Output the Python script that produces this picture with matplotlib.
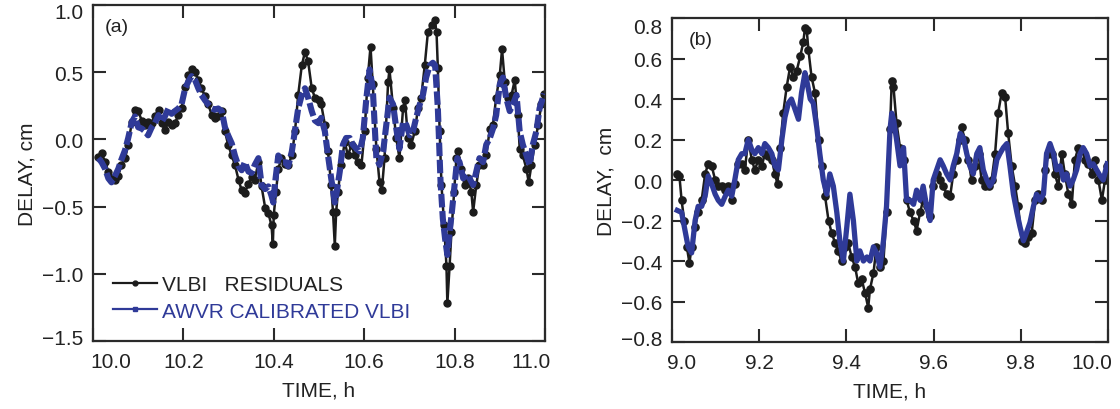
import matplotlib
matplotlib.use("Agg")
import matplotlib.pyplot as plt
from matplotlib.lines import Line2D
from matplotlib.transforms import ScaledTranslation

plt.style.use("default")
plt.rcParams["font.family"] = ["Liberation Sans", "DejaVu Sans"]

# ---- panel (a): VLBI residuals (black) ----
time_a_vlbi = [
    10.012, 10.019, 10.027, 10.034, 10.041, 10.049, 10.056, 10.063, 10.071, 10.078,
    10.086, 10.093, 10.100, 10.108, 10.115, 10.122, 10.130, 10.137, 10.145, 10.152,
    10.159, 10.167, 10.174, 10.181, 10.189, 10.196, 10.204, 10.211, 10.218, 10.226,
    10.233, 10.240, 10.248, 10.255, 10.263, 10.270, 10.277, 10.285, 10.292, 10.299,
    10.307, 10.314, 10.322, 10.329, 10.336, 10.344, 10.351, 10.358, 10.366, 10.373,
    10.381, 10.388, 10.395, 10.398, 10.400, 10.405, 10.410, 10.417, 10.425, 10.432,
    10.440, 10.447, 10.454, 10.462, 10.469, 10.476, 10.484, 10.491, 10.499, 10.505,
    10.513, 10.520, 10.527, 10.531, 10.535, 10.538, 10.542, 10.549, 10.557, 10.564,
    10.572, 10.579, 10.586, 10.594, 10.601, 10.608, 10.614, 10.619, 10.627, 10.634,
    10.639, 10.645, 10.653, 10.656, 10.664, 10.671, 10.678, 10.686, 10.690, 10.697,
    10.704, 10.712, 10.719, 10.726, 10.734, 10.741, 10.749, 10.756, 10.760, 10.763,
    10.767, 10.771, 10.777, 10.782, 10.784, 10.789, 10.793, 10.799, 10.804, 10.808,
    10.815, 10.822, 10.830, 10.837, 10.841, 10.848, 10.855, 10.863, 10.870, 10.878,
    10.885, 10.892, 10.900, 10.905, 10.911, 10.918, 10.926, 10.933, 10.940, 10.944,
    10.951, 10.959, 10.964, 10.970, 10.977, 10.985, 10.992, 10.998,
]
delay_a_vlbi = [
    -0.13, -0.10, -0.17, -0.24, -0.29, -0.30, -0.27, -0.19, -0.14, -0.04,
    0.13, 0.22, 0.21, 0.14, 0.11, 0.13, 0.12, 0.17, 0.22, 0.12,
    0.07, 0.13, 0.11, 0.12, 0.18, 0.23, 0.39, 0.48, 0.52, 0.50,
    0.44, 0.38, 0.32, 0.26, 0.18, 0.16, 0.17, 0.21, 0.06, -0.04,
    -0.12, -0.19, -0.30, -0.38, -0.40, -0.33, -0.28, -0.30, -0.17, -0.35,
    -0.51, -0.55, -0.64, -0.78, -0.56, -0.39, -0.22, -0.14, -0.18, -0.19,
    -0.12, 0.06, 0.33, 0.55, 0.65, 0.58, 0.38, 0.31, 0.29, 0.26,
    0.11, -0.09, -0.34, -0.54, -0.79, -0.54, -0.39, -0.19, -0.02, -0.12,
    -0.04, -0.12, -0.17, -0.19, 0.06, 0.46, 0.69, 0.41, -0.07, -0.32,
    -0.38, -0.14, 0.43, 0.52, 0.23, 0.01, -0.14, 0.23, 0.29, 0.01,
    -0.04, 0.06, 0.23, 0.31, 0.55, 0.80, 0.85, 0.89, 0.80, 0.53,
    0.06, -0.34, -0.64, -0.94, -1.22, -0.94, -0.69, -0.39, -0.14, -0.09,
    -0.22, -0.34, -0.29, -0.39, -0.54, -0.34, -0.19, -0.19, -0.12, 0.08,
    0.11, 0.31, 0.48, 0.67, 0.43, 0.31, 0.33, 0.44, 0.18, -0.07,
    -0.12, -0.22, -0.32, -0.19, -0.04, 0.11, 0.26, 0.34,
]

# ---- panel (a): AWVR calibrated VLBI (blue) ----
time_a_awvr = [
    10.012, 10.019, 10.027, 10.034, 10.041, 10.049, 10.056, 10.063, 10.071, 10.078,
    10.086, 10.093, 10.100, 10.108, 10.115, 10.122, 10.130, 10.137, 10.145, 10.152,
    10.159, 10.167, 10.174, 10.181, 10.189, 10.196, 10.204, 10.211, 10.218, 10.226,
    10.233, 10.240, 10.248, 10.255, 10.263, 10.270, 10.277, 10.285, 10.292, 10.299,
    10.307, 10.314, 10.322, 10.329, 10.336, 10.344, 10.351, 10.358, 10.366, 10.373,
    10.381, 10.388, 10.395, 10.399, 10.403, 10.410, 10.417, 10.425, 10.432, 10.440,
    10.447, 10.454, 10.462, 10.469, 10.476, 10.484, 10.491, 10.499, 10.505, 10.513,
    10.520, 10.527, 10.535, 10.538, 10.546, 10.553, 10.560, 10.568, 10.575, 10.583,
    10.590, 10.597, 10.605, 10.612, 10.619, 10.627, 10.634, 10.642, 10.649, 10.656,
    10.664, 10.671, 10.678, 10.686, 10.693, 10.701, 10.708, 10.715, 10.723, 10.730,
    10.737, 10.745, 10.752, 10.757, 10.763, 10.769, 10.774, 10.779, 10.784, 10.789,
    10.794, 10.800, 10.806, 10.811, 10.819, 10.826, 10.833, 10.841, 10.848, 10.855,
    10.863, 10.870, 10.878, 10.885, 10.892, 10.900, 10.907, 10.914, 10.922, 10.929,
    10.937, 10.944, 10.951, 10.959, 10.966, 10.973, 10.981, 10.988, 10.998,
]
delay_a_awvr = [
    -0.14, -0.17, -0.22, -0.29, -0.32, -0.27, -0.22, -0.15, -0.08, 0.01,
    0.13, 0.17, 0.09, 0.08, 0.06, 0.03, 0.09, 0.12, 0.18, 0.13,
    0.17, 0.23, 0.19, 0.21, 0.23, 0.26, 0.38, 0.43, 0.47, 0.44,
    0.38, 0.33, 0.29, 0.26, 0.23, 0.22, 0.23, 0.21, 0.09, 0.03,
    -0.03, -0.12, -0.20, -0.23, -0.17, -0.24, -0.25, -0.19, -0.14, -0.34,
    -0.37, -0.35, -0.42, -0.47, -0.32, -0.12, -0.17, -0.17, -0.20, -0.09,
    0.07, 0.23, 0.33, 0.38, 0.31, 0.21, 0.14, 0.12, 0.16, 0.06,
    -0.12, -0.29, -0.47, -0.42, -0.24, -0.04, 0.01, 0.01, -0.04, -0.07,
    -0.09, 0.01, 0.31, 0.52, 0.38, -0.14, -0.19, -0.09, 0.11, 0.31,
    0.26, 0.08, -0.07, 0.13, 0.11, 0.03, 0.06, 0.16, 0.26, 0.33,
    0.46, 0.55, 0.57, 0.55, 0.23, -0.32, -0.59, -0.74, -0.86, -0.69,
    -0.54, -0.34, -0.14, -0.17, -0.29, -0.26, -0.29, -0.34, -0.24, -0.14,
    -0.17, -0.04, 0.01, 0.08, 0.18, 0.41, 0.46, 0.31, 0.21, 0.26,
    0.33, 0.06, -0.04, -0.12, -0.19, -0.04, 0.06, 0.23, 0.34,
]

# ---- panel (b): VLBI residuals (black) ----
time_b_vlbi = [
    9.012, 9.017, 9.022, 9.028, 9.034, 9.040, 9.045, 9.053, 9.060, 9.068,
    9.076, 9.083, 9.091, 9.099, 9.106, 9.114, 9.122, 9.129, 9.137, 9.144,
    9.152, 9.160, 9.167, 9.175, 9.183, 9.190, 9.198, 9.206, 9.213, 9.221,
    9.229, 9.236, 9.242, 9.248, 9.255, 9.263, 9.271, 9.278, 9.286, 9.294,
    9.301, 9.305, 9.309, 9.313, 9.320, 9.328, 9.336, 9.343, 9.351, 9.359,
    9.366, 9.374, 9.381, 9.389, 9.397, 9.404, 9.412, 9.420, 9.427, 9.435,
    9.443, 9.450, 9.454, 9.462, 9.469, 9.477, 9.485, 9.492, 9.500, 9.504,
    9.508, 9.515, 9.523, 9.531, 9.538, 9.546, 9.554, 9.561, 9.569, 9.576,
    9.584, 9.592, 9.599, 9.607, 9.615, 9.622, 9.630, 9.638, 9.645, 9.653,
    9.661, 9.664, 9.672, 9.680, 9.687, 9.695, 9.703, 9.710, 9.718, 9.726,
    9.733, 9.741, 9.748, 9.756, 9.764, 9.771, 9.779, 9.787, 9.794, 9.802,
    9.810, 9.817, 9.825, 9.833, 9.840, 9.848, 9.856, 9.863, 9.871, 9.878,
    9.886, 9.894, 9.901, 9.909, 9.917, 9.924, 9.932, 9.940, 9.947, 9.955,
    9.963, 9.970, 9.978, 9.986, 9.993, 9.998,
]
delay_b_vlbi = [
    0.03, 0.02, -0.10, -0.20, -0.33, -0.41, -0.33, -0.23, -0.16, -0.10,
    0.03, 0.08, 0.07, 0.00, -0.03, -0.03, -0.05, -0.03, -0.10, -0.02,
    0.08, 0.08, 0.05, 0.20, 0.10, 0.05, 0.10, 0.07, 0.13, 0.12,
    0.10, 0.03, -0.02, 0.16, 0.33, 0.46, 0.56, 0.51, 0.54, 0.61,
    0.68, 0.75, 0.74, 0.64, 0.51, 0.43, 0.20, 0.07, -0.08, -0.20,
    -0.26, -0.31, -0.35, -0.40, -0.33, -0.31, -0.38, -0.43, -0.51, -0.49,
    -0.56, -0.63, -0.54, -0.46, -0.33, -0.43, -0.40, -0.16, 0.25, 0.49,
    0.46, 0.28, 0.16, 0.10, -0.10, -0.16, -0.20, -0.25, -0.16, -0.10,
    -0.13, -0.18, -0.03, 0.03, 0.00, -0.03, -0.07, -0.08, 0.03, 0.10,
    0.20, 0.26, 0.20, 0.10, 0.00, 0.07, 0.13, 0.00, -0.03, -0.03,
    0.00, 0.13, 0.33, 0.43, 0.41, 0.23, 0.07, -0.03, -0.13, -0.30,
    -0.31, -0.28, -0.26, -0.10, -0.07, -0.10, 0.05, 0.13, 0.13, 0.03,
    -0.03, 0.13, 0.03, -0.07, -0.12, 0.10, 0.16, 0.15, 0.10, 0.08,
    0.03, 0.10, 0.00, -0.10, 0.00, 0.07,
]

# ---- panel (b): AWVR calibrated VLBI (blue) ----
time_b_awvr = [
    9.012, 9.022, 9.030, 9.037, 9.045, 9.053, 9.060, 9.068, 9.076, 9.083,
    9.091, 9.099, 9.106, 9.114, 9.122, 9.129, 9.137, 9.144, 9.152, 9.160,
    9.167, 9.175, 9.183, 9.190, 9.198, 9.206, 9.213, 9.221, 9.229, 9.236,
    9.244, 9.252, 9.259, 9.267, 9.274, 9.282, 9.290, 9.297, 9.305, 9.310,
    9.317, 9.324, 9.332, 9.339, 9.347, 9.355, 9.362, 9.370, 9.378, 9.385,
    9.393, 9.401, 9.408, 9.416, 9.424, 9.431, 9.439, 9.447, 9.454, 9.462,
    9.469, 9.477, 9.485, 9.492, 9.500, 9.504, 9.508, 9.515, 9.523, 9.531,
    9.538, 9.546, 9.554, 9.561, 9.569, 9.576, 9.584, 9.592, 9.599, 9.607,
    9.615, 9.622, 9.630, 9.638, 9.645, 9.653, 9.661, 9.668, 9.676, 9.683,
    9.691, 9.699, 9.706, 9.714, 9.722, 9.729, 9.737, 9.745, 9.752, 9.760,
    9.768, 9.775, 9.783, 9.791, 9.798, 9.806, 9.813, 9.821, 9.829, 9.836,
    9.844, 9.852, 9.859, 9.867, 9.875, 9.882, 9.890, 9.898, 9.905, 9.913,
    9.920, 9.928, 9.936, 9.943, 9.951, 9.959, 9.966, 9.974, 9.982, 9.989,
    9.998,
]
delay_b_awvr = [
    -0.15, -0.16, -0.25, -0.33, -0.36, -0.20, -0.13, -0.13, -0.08, 0.02,
    -0.02, -0.07, -0.10, -0.12, -0.08, -0.05, -0.08, 0.00, 0.10, 0.13,
    0.13, 0.20, 0.15, 0.13, 0.16, 0.13, 0.18, 0.16, 0.13, 0.07,
    0.05, 0.20, 0.31, 0.38, 0.40, 0.35, 0.30, 0.43, 0.53, 0.48,
    0.40, 0.38, 0.26, 0.13, 0.00, -0.07, 0.03, -0.03, -0.16, -0.30,
    -0.40, -0.23, -0.07, -0.20, -0.40, -0.35, -0.40, -0.38, -0.40, -0.33,
    -0.36, -0.43, -0.30, -0.13, 0.25, 0.33, 0.30, 0.20, 0.07, 0.16,
    -0.10, -0.10, -0.12, -0.05, -0.10, -0.03, -0.13, -0.20, 0.00, 0.05,
    0.10, 0.07, 0.03, 0.00, 0.07, 0.13, 0.23, 0.21, 0.13, 0.07,
    0.03, 0.13, 0.16, 0.05, 0.00, -0.03, 0.00, 0.10, 0.13, 0.16,
    0.18, 0.07, -0.07, -0.16, -0.23, -0.30, -0.26, -0.21, -0.13, -0.07,
    -0.10, -0.07, 0.13, 0.18, 0.13, 0.05, 0.07, 0.00, 0.03, -0.03,
    0.00, 0.05, 0.13, 0.16, 0.13, 0.07, 0.08, 0.05, 0.02, 0.00,
    0.08,
]

xticks_a = [10.0, 10.2, 10.4, 10.6, 10.8, 11.0]
yticks_a = [-1.5, -1.0, -0.5, 0.0, 0.5, 1.0]
xticks_b = [9.0, 9.2, 9.4, 9.6, 9.8, 10.0]
yticks_b = [-0.8, -0.6, -0.4, -0.2, 0.0, 0.2, 0.4, 0.6, 0.8]

black = "#1c1c1c"
blue = "#2f3a98"
frame = "#2a2a2a"
text_col = "#222222"

fig = plt.figure(figsize=(11.2, 4.1), dpi=100)
ax_a = fig.add_axes([0.083, 0.166, 0.4036, 0.8195])
ax_b = fig.add_axes([0.600, 0.1634, 0.3893, 0.7902])


def nudge(label, dx, dy):
    # shift a tick label by dx, dy pixels
    label.set_transform(label.get_transform() +
                        ScaledTranslation(dx / 100, dy / 100, fig.dpi_scale_trans))


def fmt_y(v):
    return f"{v:.1f}".replace("-", "\u2212")


def style(ax, xticks, yticks):
    for s in ax.spines.values():
        s.set_linewidth(1.6)
        s.set_color(frame)
    ax.set_xticks(xticks)
    ax.set_yticks(yticks)
    ax.set_xticklabels([f"{v:.1f}" for v in xticks])
    ax.set_yticklabels([fmt_y(v) for v in yticks])
    ax.xaxis.set_tick_params(which="major", direction="in", length=9.5,
                             width=1.5, color=frame, top=True, bottom=True,
                             labelsize=15, labelcolor=text_col, pad=8)
    ax.yaxis.set_tick_params(which="major", direction="in", length=9.5,
                             width=1.5, color=frame, left=True, right=True,
                             labelsize=15, labelcolor=text_col, pad=7)
    ax.set_xlabel("TIME, h", fontsize=15, color=text_col, labelpad=7)


# panel (a)
ax_a.plot(time_a_vlbi, delay_a_vlbi, color=black, lw=1.8, marker="o", ms=5.0,
          mec=black, mfc=black, zorder=2)
ax_a.plot(time_a_awvr, delay_a_awvr, color=blue, lw=4.4, dashes=(2.2, 0.6),
          solid_capstyle="butt", zorder=3)
ax_a.set_xlim(10.0, 11.0)
ax_a.set_ylim(-1.5, 1.0)
style(ax_a, xticks_a, yticks_a)
ax_a.set_ylabel("DELAY, cm", fontsize=15, color=text_col, labelpad=4)
ax_a.text(0.026, 0.937, "(a)", transform=ax_a.transAxes, fontsize=14,
          color=text_col, va="center", ha="left")

handles = [
    Line2D([], [], color=black, lw=1.6, marker="o", ms=3.5),
    Line2D([], [], color=blue, lw=1.6, marker="s", ms=3.5),
]
leg = ax_a.legend(handles, ["VLBI   RESIDUALS", "AWVR CALIBRATED VLBI"],
                  loc="lower left", bbox_to_anchor=(0.044, 0.06),
                  frameon=False, fontsize=15, numpoints=1, handlelength=2.1,
                  handletextpad=0.25, labelspacing=0.38, borderpad=0,
                  borderaxespad=0)
leg.get_texts()[0].set_color(text_col)
leg.get_texts()[1].set_color(blue)

# panel (b)
ax_b.plot(time_b_vlbi, delay_b_vlbi, color=black, lw=1.8, marker="o", ms=5.2,
          mec=black, mfc=black, zorder=2)
ax_b.plot(time_b_awvr, delay_b_awvr, color=blue, lw=3.8, zorder=3)
ax_b.set_xlim(9.0, 10.0)
ax_b.set_ylim(-0.8, 0.8)
style(ax_b, xticks_b, yticks_b)
ax_b.set_ylabel("DELAY,  cm", fontsize=15, color=text_col, labelpad=4)
ax_b.text(0.038, 0.935, "(b)", transform=ax_b.transAxes, fontsize=14,
          color=text_col, va="center", ha="left")

# edge tick labels sit inside the frame in the original
xl = ax_a.get_xticklabels()
nudge(xl[0], 18, 0)
nudge(xl[-1], -14, 0)
yl = ax_a.get_yticklabels()
nudge(yl[0], 0, 4)
nudge(yl[-1], 0, -6)
xl = ax_b.get_xticklabels()
nudge(xl[0], 10, 0)
nudge(xl[-1], -16, 0)
yl = ax_b.get_yticklabels()
nudge(yl[0], 0, 5)
nudge(yl[-1], 0, -7)

fig.savefig("out.png", dpi=100)
